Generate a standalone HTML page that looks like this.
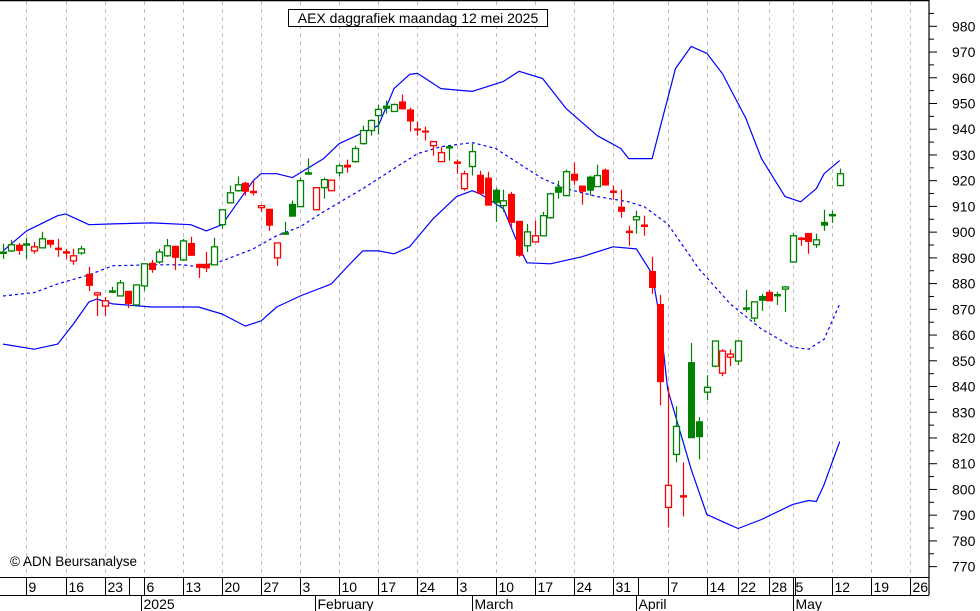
<!DOCTYPE html>
<html><head><meta charset="utf-8">
<style>
html,body{margin:0;padding:0;background:#fff;}
svg{display:block;font-family:"Liberation Sans",Tahoma,sans-serif;}
</style></head>
<body>
<svg id="chart" width="980" height="611" viewBox="0 0 980 611" xmlns="http://www.w3.org/2000/svg">
  <rect x="0" y="0" width="980" height="611" fill="#fff"/>
  <g id="grid"></g>
  <g id="bands"></g>
  <g id="candles"></g>
  <g id="yaxis"></g>
  <g id="xaxis"></g>
  <line x1="0" y1="0.5" x2="929" y2="0.5" stroke="#000" stroke-width="1.5"/>
  <line x1="929" y1="0" x2="929" y2="595" stroke="#000" stroke-width="1.2"/>
  <rect x="288.5" y="9.5" width="259" height="17" fill="#fff" stroke="#000" stroke-width="1"/>
  <text x="418" y="23" font-size="14" text-anchor="middle" fill="#000">AEX daggrafiek maandag 12 mei 2025</text>
  <text x="10" y="566" font-size="13.5" fill="#000">© ADN Beursanalyse</text>
</svg>
<script>
// ---- data (AEX index, daily) ----
const opens  = [892.3,892.7,895.1,895.1,892.7,893.9,897.0,893.7,892.5,888.8,891.9,883.8,875.6,871.3,876.8,875.2,877.2,871.7,879.1,888.1,888.4,890.8,894.7,889.2,895.8,887.7,887.7,887.3,902.9,911.4,916.1,919.2,915.9,909.5,909.1,890.0,899.4,911.0,909.9,922.7,908.7,917.3,916.1,923.1,926.2,927.4,934.4,939.5,945.3,949.2,946.9,950.8,947.7,940.3,939.5,933.6,927.4,933.2,927.2,916.9,925.5,922.3,921.2,916.5,910.3,914.9,904.4,894.7,896.2,898.6,905.6,917.7,914.2,922.7,918.1,921.6,917.7,924.3,915.9,909.9,900.3,904.8,902.7,884.9,872.1,793.0,813.6,797.5,849.5,826.5,837.8,847.9,845.2,851.4,849.9,870.3,866.6,875.2,876.8,875.4,877.9,888.4,897.6,899.7,895.1,904.0,906.6,918.1];
const highs  = [895.5,897.0,895.8,897.8,896.2,900.1,897.0,897.4,893.5,893.5,894.7,886.5,876.8,874.8,878.7,881.4,877.2,879.5,887.7,889.2,893.5,897.4,894.7,897.4,898.2,887.7,892.3,897.8,908.7,918.1,921.6,919.6,920.0,910.3,909.1,895.8,904.0,912.2,921.2,928.6,917.3,921.2,920.4,926.6,928.2,933.6,941.4,943.8,949.6,951.2,950.0,953.5,948.4,943.0,941.0,935.2,933.2,933.6,928.2,923.9,934.4,923.9,923.5,917.3,916.5,915.7,904.4,903.2,904.4,907.9,915.3,920.0,924.3,927.0,918.1,922.0,926.2,924.7,918.1,916.5,902.5,908.3,906.4,890.4,875.6,839.7,832.3,810.5,856.9,828.1,844.4,857.7,854.5,854.5,857.7,877.5,872.9,876.0,877.5,876.8,879.1,899.7,898.2,899.7,899.4,908.7,908.3,924.7];
const lows   = [889.6,892.3,891.2,889.6,891.6,893.9,893.9,890.4,889.6,887.3,891.2,877.1,867.4,867.4,876.4,875.2,870.5,871.7,877.2,884.2,887.7,890.4,885.3,888.8,890.8,882.2,884.5,887.3,901.3,911.4,915.7,914.2,914.2,907.9,900.5,886.9,899.4,906.0,909.9,922.3,908.7,913.0,916.1,921.6,923.1,927.0,934.0,937.5,937.9,946.1,946.9,947.7,939.1,937.5,935.6,929.7,927.4,927.8,922.7,916.1,922.0,914.5,910.3,904.0,907.9,901.7,890.4,892.3,896.2,898.6,905.2,913.0,914.2,918.4,910.7,914.2,917.7,918.1,912.6,905.6,894.7,899.4,898.6,876.0,832.7,785.2,810.5,789.5,819.9,811.7,834.7,847.5,844.0,847.9,848.3,869.0,865.1,869.4,873.1,871.7,869.0,888.1,894.7,891.6,893.9,900.5,903.6,918.1];
const closes = [891.9,895.1,892.7,895.5,894.3,897.4,895.1,893.5,891.9,890.8,893.5,879.1,876.4,873.3,877.2,880.3,872.1,879.5,887.7,885.3,892.3,894.7,890.0,896.6,890.8,886.1,885.9,894.3,908.7,915.3,918.4,915.7,915.5,910.3,902.5,895.8,899.7,906.0,920.0,923.1,917.3,920.4,920.2,925.8,925.1,932.5,939.5,943.4,947.7,947.9,949.6,947.7,943.0,939.5,938.7,935.2,930.9,932.9,927.0,922.7,931.3,914.9,910.3,911.4,912.2,903.6,890.8,900.1,898.6,906.4,914.9,915.3,923.5,920.0,915.7,916.1,922.0,918.1,915.7,907.9,900.1,906.0,902.5,878.3,841.7,801.6,824.5,797.3,819.9,820.3,839.7,857.7,853.8,852.6,857.7,870.5,872.9,873.3,873.1,875.8,878.7,898.6,897.4,896.2,897.0,902.5,906.8,922.7];
const firstPrevClose = 890.0;
// Bollinger band samples (candle index, value)
const upperIdx = [0,3,7,8,11,14,19,24,26,28,32,33,35,37,41,43,48,50,52,53,56,60,64,66,69,72,76,79,80,83,84,86,88,90,92,95,97,100,102,104,105,107];
const upperVal = [892.7,900.5,906.4,907.1,902.9,903.2,903.6,902.9,900.5,902.9,920.0,922.7,922.7,921.2,928.6,934.4,941.4,955.8,961.3,961.7,955.8,954.7,958.6,962.5,959.7,948.1,937.5,932.5,928.6,928.6,940.3,963.6,972.2,969.5,961.6,944.2,928.6,913.8,911.8,916.9,922.7,927.8];
const midIdx = [0,4,7,11,14,19,23,25,28,32,35,38,41,46,50,53,56,60,63,66,69,72,76,80,82,85,89,93,97,101,103,105,107];
const midVal = [875.2,876.5,879.9,883.4,886.9,887.3,887.3,886.5,888.8,893.5,898.6,902.1,907.9,916.9,924.7,930.5,933.2,934.8,932.5,926.6,920.8,916.9,913.8,911.8,909.9,903.2,885.7,872.1,862.3,855.3,854.5,858.4,872.1];
const lowerIdx = [0,4,7,9,11,12,14,19,25,28,31,33,35,38,42,44,46,48,50,52,55,58,60,61,64,66,67,70,74,78,81,83,84,85,88,90,92,94,97,101,103,104,105,107];
const lowerVal = [856.5,854.5,856.5,864.3,872.9,874.0,872.1,870.9,870.9,868.2,863.5,865.5,870.9,875.2,879.9,886.5,892.7,892.7,891.6,894.3,905.2,913.8,916.1,914.9,909.1,894.3,888.1,887.7,890.4,894.3,893.5,883.8,866.2,838.9,807.8,790.3,787.5,784.8,788.3,794.2,795.7,795.3,801.9,818.6];
const yTicks = [980,970,960,950,940,930,920,910,900,890,880,870,860,850,840,830,820,810,800,790,780,770];
const dateLabels = ["9","16","23","6","13","20","27","3","10","17","24","3","10","17","24","31","7","14","22","28","5","12","19","26"];
const dateTickIdx = [3,8,13,18,23,28,33,38,43,48,53,58,63,68,73,78,85,90,94,98,101,106,111,116];
const monthLabels = ["December","2025","February","March","April","May"];
const monthStartIdx = [-18.5,17.7,39.9,60,81,101];

// ---- axis functions ----
const X0 = 3, DX = 7.82;
function xPos(i){ return X0 + i*DX; }
function yPos(p){ return 26.3 + (980 - p)*2.573; }

const NS = "http://www.w3.org/2000/svg";
function mk(tag, attrs, parent){
  const e = document.createElementNS(NS, tag);
  for (const k in attrs) e.setAttribute(k, attrs[k]);
  parent.appendChild(e);
  return e;
}

// grid
const grid = document.getElementById('grid');
dateTickIdx.forEach((di)=>{
  const gx = Math.round(xPos(di) - 0.5*DX + 0.5*DX) + 0.5;
  if (gx > 928) return;
  const l = mk('line',{x1:gx,y1:1,x2:gx,y2:577,stroke:'#bdbdbd','stroke-width':1,'stroke-dasharray':'4,4'},grid);
  
  
});

// bands
const bands = document.getElementById('bands');
function bandPath(idx, vals, dashed, name){
  let d = '';
  idx.forEach((ii,k)=>{ d += (k?'L':'M') + xPos(ii).toFixed(1) + ' ' + yPos(vals[k]).toFixed(1) + ' '; });
  const p = mk('path',{d:d,fill:'none',stroke:'#0000ff','stroke-width':1.2,'stroke-linejoin':'round'},bands);
  if (dashed) p.setAttribute('stroke-dasharray','3,3');
  
  
}
bandPath(upperIdx, upperVal, false, 'upper-band');
bandPath(midIdx, midVal, true, 'middle-band');
bandPath(lowerIdx, lowerVal, false, 'lower-band');

// candles
const cg = document.getElementById('candles');
closes.forEach((c,i)=>{
  const o = opens[i], h = highs[i], l = lows[i];
  const prev = i ? closes[i-1] : firstPrevClose;
  const col = c >= prev ? '#008000' : '#ff0000';
  const cx = Math.round(xPos(i)) + 0.5;
  const g = mk('g',{},cg);
  
  
  const top = yPos(Math.max(o,c)), bot = yPos(Math.min(o,c));
  const hollow = c > o;
  mk('line',{x1:cx,y1:yPos(h),x2:cx,y2:yPos(l),stroke:col,'stroke-width':1.2},g);
  if (bot - top < 2) {
    mk('rect',{x:cx-3.5,y:(top+bot)/2-1,width:7,height:2.5,fill:col},g);
  } else if (hollow) {
    mk('rect',{x:cx-3,y:top,width:6,height:bot-top,fill:'#fff',stroke:col,'stroke-width':1.3},g);
  } else {
    mk('rect',{x:cx-3.5,y:top,width:7,height:bot-top,fill:col},g);
  }
});

// y axis
const ya = document.getElementById('yaxis');
for (let v = 985; v >= 765; v -= 5) {
  const yy = yPos(v);
  if (yy < 2 || yy > 576) continue;
  const major = v % 10 === 0;
  const t = mk('line',{x1:929,y1:yy,x2:major?937:934,y2:yy,stroke:'#000','stroke-width':1},ya);
  
  
}
yTicks.forEach(v=>{
  const t = mk('text',{x:952,y:yPos(v)+5,'font-size':14,fill:'#000'},ya);
  t.textContent = v;
  
  
});

// x axis
const xa = document.getElementById('xaxis');
mk('line',{x1:0,y1:577.5,x2:929,y2:577.5,stroke:'#000','stroke-width':1},xa);
mk('line',{x1:0,y1:595.5,x2:929,y2:595.5,stroke:'#000','stroke-width':1},xa);
dateTickIdx.forEach((di,k)=>{
  const gx = Math.round(xPos(di)) + 0.5;
  if (gx > 929) return;
  const l = mk('line',{x1:gx,y1:577,x2:gx,y2:595,stroke:'#000','stroke-width':1},xa);
  
  
  const t = mk('text',{x:gx+2,y:592,'font-size':14,fill:'#000'},xa);
  t.textContent = dateLabels[k];
  
  
});
[129.5,144.5,638.5,795.5].forEach(sx=>{
  mk('line',{x1:sx,y1:577,x2:sx,y2:595,stroke:'#000','stroke-width':1},xa);
});
monthStartIdx.forEach((mi,k)=>{
  const mx = Math.round(xPos(mi)) + 0.5;
  if (k) mk('line',{x1:mx,y1:595,x2:mx,y2:611,stroke:'#000','stroke-width':1},xa);
  const t = mk('text',{x:mx+2,y:609,'font-size':14,fill:'#000'},xa);
  t.textContent = monthLabels[k];
  
  
});
</script>
</body></html>
